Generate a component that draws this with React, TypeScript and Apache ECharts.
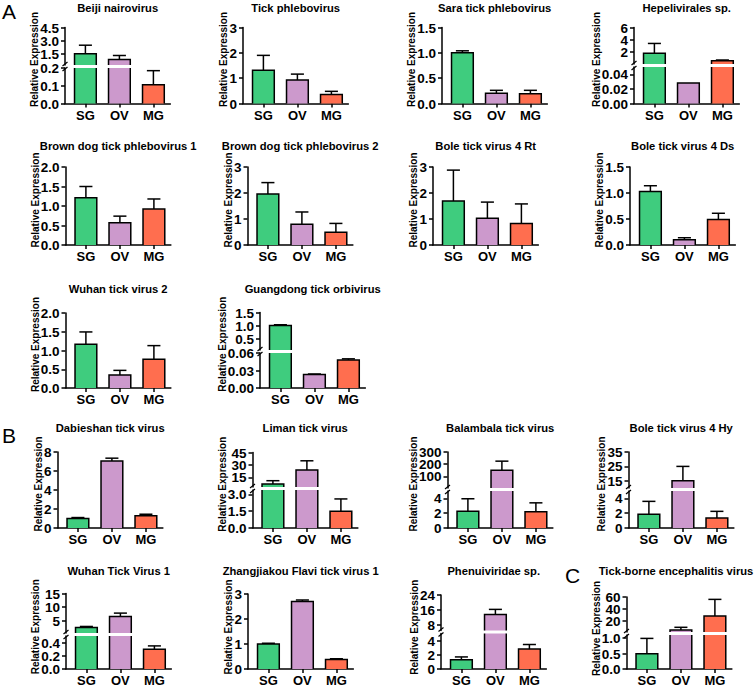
import React, { useEffect, useRef } from 'react';
import * as echarts from 'echarts';

const categories = ['SG', 'OV', 'MG'];

// ---- Panel A ----
const beijiMean = [1.48, 0.83, 0.105];
const beijiErr = [0.99, 0.46, 0.08];
const beijiLowTicks = ['0.0', '0.1', '0.2'];
const beijiHighTicks = ['1.5', '3.0', '4.5'];

const tickPhleboMean = [1.31, 0.93, 0.36];
const tickPhleboErr = [0.59, 0.23, 0.12];
const tickPhleboTicks = ['0', '1', '2', '3'];

const saraMean = [1.0, 0.2, 0.19];
const saraErr = [0.04, 0.06, 0.07];
const saraTicks = ['0.0', '0.5', '1.0', '1.5'];

const hepeliMean = [1.8, 0.028, 0.6];
const hepeliErr = [1.6, 0, 0.1];
const hepeliLowTicks = ['0.00', '0.02', '0.04'];
const hepeliHighTicks = ['2', '4', '6'];

const bdtp1Mean = [1.21, 0.57, 0.92];
const bdtp1Err = [0.29, 0.17, 0.26];
const bdtp1Ticks = ['0.0', '0.5', '1.0', '1.5', '2.0'];

const bdtp2Mean = [1.96, 0.8, 0.49];
const bdtp2Err = [0.44, 0.47, 0.34];
const bdtp2Ticks = ['0', '1', '2', '3'];

const btv4RtMean = [1.69, 1.03, 0.83];
const btv4RtErr = [1.19, 0.62, 0.75];
const btv4RtTicks = ['0', '1', '2', '3'];

const btv4DsMean = [1.03, 0.1, 0.49];
const btv4DsErr = [0.11, 0.04, 0.12];
const btv4DsTicks = ['0.0', '0.5', '1.0', '1.5'];

const wtv2Mean = [1.165, 0.35, 0.77];
const wtv2Err = [0.33, 0.12, 0.36];
const wtv2Ticks = ['0.0', '0.5', '1.0', '1.5', '2.0'];

const gdMean = [1.0, 0.023, 0.048];
const gdErr = [0.03, 0.001, 0.002];
const gdLowTicks = ['0.00', '0.03', '0.06'];
const gdHighTicks = ['0.5', '1.0', '1.5'];

// ---- Panel B ----
const dbsMean = [1.0, 7.05, 1.3];
const dbsErr = [0.1, 0.3, 0.15];
const dbsTicks = ['0', '2', '4', '6', '8'];

const limanMean = [7, 24, 1.5];
const limanErr = [4, 11, 1.1];
const limanLowTicks = ['0.0', '1.5', '3.0'];
const limanHighTicks = ['15', '30', '45'];

const balambalaMean = [2.25, 150, 2.2];
const balambalaErr = [1.7, 75, 1.2];
const balambalaLowTicks = ['0', '2', '4'];
const balambalaHighTicks = ['100', '200', '300'];

const btv4HyMean = [1.85, 15, 1.35];
const btv4HyErr = [1.75, 10, 0.9];
const btv4HyLowTicks = ['0', '2', '4'];
const btv4HyHighTicks = ['15', '25', '35'];

const wtv1Mean = [2.5, 6.6, 0.3];
const wtv1Err = [0.4, 1.2, 0.05];
const wtv1LowTicks = ['0.0', '0.2', '0.4'];
const wtv1HighTicks = ['5', '10', '15'];

const zjkMean = [1.0, 2.7, 0.38];
const zjkErr = [0.03, 0.06, 0.03];
const zjkTicks = ['0', '1', '2', '3'];

const phenuiMean = [1.3, 13.5, 2.8];
const phenuiErr = [0.4, 2.8, 0.65];
const phenuiLowTicks = ['0', '2', '4'];
const phenuiHighTicks = ['8', '16', '24'];

// ---- Panel C ----
const tbevMean = [0.49, 4.5, 28];
const tbevErr = [0.5, 4.5, 28];
const tbevLowTicks = ['0.0', '0.5', '1.0'];
const tbevHighTicks = ['20', '40', '60'];

type Seg = { min: number; max: number; ticks: string[] };
type Panel = { title: string; mean: number[]; err: number[]; low: Seg; high?: Seg };

const panels: Panel[] = [
  { title: 'Beiji nairovirus', mean: beijiMean, err: beijiErr,
    low: { min: 0, max: 0.2, ticks: beijiLowTicks }, high: { min: 0.2, max: 4.5, ticks: beijiHighTicks } },
  { title: 'Tick phlebovirus', mean: tickPhleboMean, err: tickPhleboErr, low: { min: 0, max: 3, ticks: tickPhleboTicks } },
  { title: 'Sara tick phlebovirus', mean: saraMean, err: saraErr, low: { min: 0, max: 1.5, ticks: saraTicks } },
  { title: 'Hepelivirales sp.', mean: hepeliMean, err: hepeliErr,
    low: { min: 0, max: 0.05, ticks: hepeliLowTicks }, high: { min: 0.05, max: 6, ticks: hepeliHighTicks } },
  { title: 'Brown dog tick phlebovirus 1', mean: bdtp1Mean, err: bdtp1Err, low: { min: 0, max: 2, ticks: bdtp1Ticks } },
  { title: 'Brown dog tick phlebovirus 2', mean: bdtp2Mean, err: bdtp2Err, low: { min: 0, max: 3, ticks: bdtp2Ticks } },
  { title: 'Bole tick virus 4 Rt', mean: btv4RtMean, err: btv4RtErr, low: { min: 0, max: 3, ticks: btv4RtTicks } },
  { title: 'Bole tick virus 4 Ds', mean: btv4DsMean, err: btv4DsErr, low: { min: 0, max: 1.5, ticks: btv4DsTicks } },
  { title: 'Wuhan tick virus 2', mean: wtv2Mean, err: wtv2Err, low: { min: 0, max: 2, ticks: wtv2Ticks } },
  { title: 'Guangdong tick orbivirus', mean: gdMean, err: gdErr,
    low: { min: 0, max: 0.06, ticks: gdLowTicks }, high: { min: 0.06, max: 1.5, ticks: gdHighTicks } },
  { title: 'Dabieshan tick virus', mean: dbsMean, err: dbsErr, low: { min: 0, max: 8, ticks: dbsTicks } },
  { title: 'Liman tick virus', mean: limanMean, err: limanErr,
    low: { min: 0, max: 3.4, ticks: limanLowTicks }, high: { min: 3.4, max: 45, ticks: limanHighTicks } },
  { title: 'Balambala tick virus', mean: balambalaMean, err: balambalaErr,
    low: { min: 0, max: 5, ticks: balambalaLowTicks }, high: { min: 5, max: 300, ticks: balambalaHighTicks } },
  { title: 'Bole tick virus 4 Hy', mean: btv4HyMean, err: btv4HyErr,
    low: { min: 0, max: 5, ticks: btv4HyLowTicks }, high: { min: 10, max: 35, ticks: btv4HyHighTicks } },
  { title: 'Wuhan Tick Virus 1', mean: wtv1Mean, err: wtv1Err,
    low: { min: 0, max: 0.5, ticks: wtv1LowTicks }, high: { min: 0.5, max: 15, ticks: wtv1HighTicks } },
  { title: 'Zhangjiakou Flavi tick virus 1', mean: zjkMean, err: zjkErr, low: { min: 0, max: 3, ticks: zjkTicks } },
  { title: 'Phenuiviridae sp.', mean: phenuiMean, err: phenuiErr,
    low: { min: 0, max: 5, ticks: phenuiLowTicks }, high: { min: 5, max: 24, ticks: phenuiHighTicks } },
  { title: 'Tick-borne encephalitis virus', mean: tbevMean, err: tbevErr,
    low: { min: 0, max: 1.1, ticks: tbevLowTicks }, high: { min: 1.1, max: 60, ticks: tbevHighTicks } },
];

// Pixel placement of each small plot: y-axis x, top and baseline y,
// y of the lower segment's top for broken axes, and the title's position.
type Place = { x: number; top: number; base: number; split?: number; titleY: number; titleX?: number };
const places: Place[] = [
  { x: 65, top: 27.5, base: 103.5, split: 68, titleY: 8 },
  { x: 243, top: 27.5, base: 103.5, titleY: 8 },
  { x: 442, top: 27.5, base: 103.5, titleY: 8 },
  { x: 634, top: 27.5, base: 103.5, split: 67, titleY: 8 },
  { x: 65.5, top: 167, base: 245, titleY: 146 },
  { x: 247.5, top: 167, base: 245, titleY: 146 },
  { x: 433, top: 167, base: 245, titleY: 146 },
  { x: 630, top: 167, base: 245, titleY: 146 },
  { x: 65.5, top: 313, base: 388, titleY: 289 },
  { x: 260, top: 312.5, base: 388, split: 353, titleY: 289 },
  { x: 57.5, top: 452, base: 528, titleY: 428 },
  { x: 252.5, top: 452.5, base: 528, split: 490, titleY: 428 },
  { x: 447.5, top: 452, base: 528, split: 491, titleY: 428 },
  { x: 628.5, top: 452, base: 528, split: 491, titleY: 428 },
  { x: 66, top: 593.5, base: 672, split: 636, titleY: 571 },
  { x: 248, top: 594, base: 672, titleY: 571 },
  { x: 441, top: 595, base: 671.5, split: 633.5, titleY: 571 },
  { x: 626.5, top: 597, base: 672, split: 635, titleY: 571, titleX: 676 },
];

const panelLetters = [
  { text: 'A', x: 2, y: 11 },
  { text: 'B', x: 2, y: 435 },
  { text: 'C', x: 565, y: 575 },
];

const FONT = '"Liberation Sans", Arial, Helvetica, sans-serif';
const BAR_COLORS = ['#3fcc7e', '#cc99cc', '#ff6e4f'];
const UNIT = 34;
const XMIN = -0.6;
const XMAX = 2.5;
const PLOT_W = UNIT * (XMAX - XMIN);
const BREAK_GAP = 3;
const LINE = { color: '#000', width: 1.5 };
const TICK_LEN = 4;
const TICK_FONT = 13.5;

function labelWidth(s: string) {
  let w = 0;
  for (const c of s) w += (c === '.' ? 0.278 : 0.556) * TICK_FONT;
  return w;
}

// Bars, outlines and upward error bars for one axis segment.
function makeBarRender(seg: Seg) {
  return (params: any, api: any) => {
    const i = api.value(0);
    const m = api.value(1);
    const e = api.value(2);
    if (m <= seg.min) return null;
    const clipped = m > seg.max;
    const topVal = Math.min(m, seg.max);
    const pTop = api.coord([i, topVal]);
    const yBot = api.coord([i, seg.min])[1];
    const xc = pTop[0];
    const yTop = pTop[1];
    const w = api.size([1, 0])[0] * 0.64;
    const x0 = xc - w / 2;
    const x1 = xc + w / 2;
    const stroke = { stroke: '#000', lineWidth: 1.5, fill: null };
    const children: any[] = [
      { type: 'rect', shape: { x: x0, y: yTop, width: w, height: yBot - yTop }, style: { fill: BAR_COLORS[i] } },
    ];
    if (clipped) {
      children.push({ type: 'line', shape: { x1: x0, y1: yBot, x2: x0, y2: yTop }, style: stroke });
      children.push({ type: 'line', shape: { x1: x1, y1: yBot, x2: x1, y2: yTop }, style: stroke });
    } else {
      children.push({ type: 'polyline', shape: { points: [[x0, yBot], [x0, yTop], [x1, yTop], [x1, yBot]] }, style: stroke });
      if (e > 0) {
        const yE = api.coord([i, Math.min(m + e, seg.max)])[1];
        const cw = w * 0.6;
        children.push({ type: 'line', shape: { x1: xc, y1: yTop, x2: xc, y2: yE }, style: stroke });
        children.push({ type: 'line', shape: { x1: xc - cw / 2, y1: yE, x2: xc + cw / 2, y2: yE }, style: stroke });
      }
    }
    return { type: 'group', children };
  };
}

// Y tick labels placed through the segment's own value scale.
function makeTickLabelRender(seg: Seg) {
  return (params: any, api: any) => {
    const p = api.coord([XMIN, api.value(1)]);
    const label = seg.ticks[params.dataIndex];
    return {
      type: 'text', x: p[0] - TICK_LEN - 2, y: p[1] + 0.5,
      style: {
        text: label, fill: '#000', fontFamily: FONT, fontWeight: 'bold', fontSize: TICK_FONT,
        align: 'right', verticalAlign: 'middle', textAlign: 'right', textVerticalAlign: 'middle',
      },
    };
  };
}

function buildOption() {
  const grid: any[] = [];
  const xAxis: any[] = [];
  const yAxis: any[] = [];
  const series: any[] = [];
  const graphic: any[] = [];

  panels.forEach((p, k) => {
    const L = places[k];
    const parts = p.high && L.split !== undefined
      ? [
          { seg: p.low, top: L.split, bottom: L.base, lower: true },
          { seg: p.high, top: L.top, bottom: L.split - BREAK_GAP, lower: false },
        ]
      : [{ seg: p.low, top: L.top, bottom: L.base, lower: true }];

    parts.forEach((part) => {
      const gi = grid.length;
      const seg = part.seg;
      grid.push({ left: L.x, top: part.top, width: PLOT_W, height: part.bottom - part.top, containLabel: false });
      xAxis.push({
        type: 'value', gridIndex: gi, min: XMIN, max: XMAX, show: part.lower,
        axisLine: { show: true, onZero: false, lineStyle: LINE },
        axisTick: { show: true, length: TICK_LEN, customValues: [0, 1, 2], lineStyle: LINE },
        axisLabel: {
          customValues: [0, 1, 2], margin: 5, hideOverlap: false,
          formatter: (v: number) => categories[Math.round(v)] ?? '',
          fontFamily: FONT, fontWeight: 'bold', fontSize: 13, color: '#000',
        },
        splitLine: { show: false },
      });
      const tickVals = seg.ticks.map(Number);
      yAxis.push({
        type: 'value', gridIndex: gi, min: seg.min, max: seg.max,
        axisLine: { show: true, onZero: false, lineStyle: LINE },
        axisTick: { show: true, length: TICK_LEN, customValues: tickVals, lineStyle: LINE },
        axisLabel: { show: false },
        splitLine: { show: false },
      });
      series.push({
        type: 'custom', xAxisIndex: gi, yAxisIndex: gi, silent: true, clip: false,
        data: p.mean.map((m, i) => [i, m, p.err[i]]),
        encode: { x: 0, y: 1 },
        renderItem: makeBarRender(seg),
      });
      series.push({
        type: 'custom', xAxisIndex: gi, yAxisIndex: gi, silent: true, clip: false,
        data: tickVals.map((v) => [XMIN, v]),
        encode: { x: 0, y: 1 },
        renderItem: makeTickLabelRender(seg),
      });
    });

    // axis break marks
    if (p.high && L.split !== undefined) {
      const yA = L.split - BREAK_GAP;
      const yB = L.split;
      const st = { stroke: '#000', lineWidth: 1.2 };
      graphic.push({ type: 'line', shape: { x1: L.x - 2.5, y1: yA + 1, x2: L.x + 2.5, y2: yA - 3 }, style: st, silent: true });
      graphic.push({ type: 'line', shape: { x1: L.x - 2.5, y1: yB + 3, x2: L.x + 2.5, y2: yB - 1 }, style: st, silent: true });
    }

    // title
    graphic.push({
      type: 'text', x: L.titleX ?? L.x + PLOT_W / 2, y: L.titleY, silent: true,
      style: {
        text: p.title, fill: '#000', fontFamily: FONT, fontWeight: 'bold', fontSize: 11.2,
        align: 'center', verticalAlign: 'middle', textAlign: 'center', textVerticalAlign: 'middle',
      },
    });

    // y-axis name
    const allTicks = p.high ? [...p.low.ticks, ...p.high.ticks] : p.low.ticks;
    const lw = Math.max(...allTicks.map(labelWidth));
    graphic.push({
      type: 'text', x: L.x - lw - 11.5, y: (L.top + L.base) / 2 - 6, rotation: Math.PI / 2, silent: true,
      style: {
        text: 'Relative Expression', fill: '#000', fontFamily: FONT, fontWeight: 'bold', fontSize: 10,
        align: 'center', verticalAlign: 'middle', textAlign: 'center', textVerticalAlign: 'middle',
      },
    });
  });

  panelLetters.forEach((l) => {
    graphic.push({
      type: 'text', x: l.x, y: l.y, silent: true,
      style: {
        text: l.text, fill: '#000', fontFamily: FONT, fontSize: 21,
        align: 'left', verticalAlign: 'middle', textAlign: 'left', textVerticalAlign: 'middle',
      },
    });
  });

  return { animation: false, backgroundColor: '#fff', grid, xAxis, yAxis, series, graphic };
}

export default function App() {
  const ref = useRef<HTMLDivElement>(null);
  useEffect(() => {
    if (!ref.current) return;
    const chart = echarts.init(ref.current, null, { renderer: 'svg' });
    chart.setOption(buildOption() as any);
    return () => chart.dispose();
  }, []);
  return (
    <div
      ref={ref}
      style={{ position: 'absolute', left: 0, top: 0, width: 755, height: 687, background: '#fff' }}
    />
  );
}
